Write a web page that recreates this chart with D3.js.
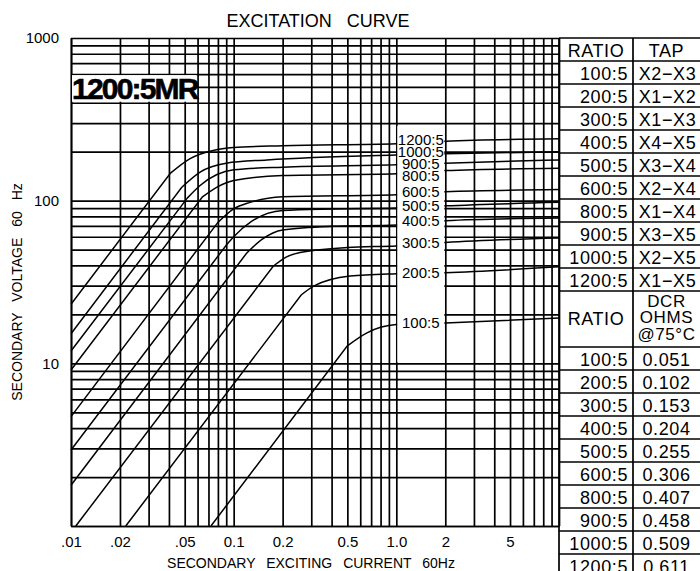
<!DOCTYPE html>
<html>
<head>
<meta charset="utf-8">
<script src="https://cdn.jsdelivr.net/npm/d3@7"></script>
<style>
  body { margin: 0; background: #fff; }
  svg { display: block; font-family: "Liberation Sans", Arial, sans-serif; }
</style>
</head>
<body>
<svg></svg>
<script>
var width = 700;
var height = 571;

// excitation curves: [secondary exciting current (A), secondary volts]
var curve100 = [[0.0725, 1], [0.5, 12.8], [0.66, 15.4], [1, 17.3], [2, 17.7], [10, 19]];
var curve200 = [[0.0217, 1], [0.26, 26.3], [0.31, 29.8], [0.52, 34.4], [1, 35.6], [2, 36.1], [10, 39.2]];
var curve300 = [[0.0107, 1], [0.175, 39.5], [0.21, 45], [0.256, 48], [0.5, 51.5], [1, 52.7], [2, 55.4], [10, 58.9]];
var curve400 = [[0.01, 1.78], [0.12, 47.5], [0.15, 58], [0.2, 66], [0.4, 69.5], [1, 70.8], [2, 75.3], [10, 78.2]];
var curve500 = [[0.01, 2.93], [0.09, 53.2], [0.1, 60], [0.13, 75], [0.2, 87], [0.4, 89], [1, 90.1], [2, 93], [10, 97.7]];
var curve600 = [[0.01, 4.7], [0.08, 73.5], [0.1, 89], [0.126, 97.6], [0.2, 105.8], [1, 108.9], [2, 113.6], [10, 117]];
var curve800 = [[0.01, 9.1], [0.064, 105], [0.08, 122], [0.1, 133], [0.2, 142.6], [1, 146.2], [2, 153], [10, 158]];
var curve900 = [[0.01, 11.9], [0.052, 104], [0.0622, 124], [0.1, 154.7], [0.2, 160.7], [1, 166], [2, 170], [10, 178]];
var curve1000 = [[0.01, 15.2], [0.048, 121], [0.0622, 150], [0.09, 170], [0.16, 178], [1, 191], [2, 194], [10, 200]];
var curve1200 = [[0.01, 23.1], [0.0407, 147], [0.054, 181.5], [0.0748, 203.6], [0.0995, 212], [0.2, 217.6], [1, 223.8], [2, 232], [10, 240]];

var ratios = ["100:5", "200:5", "300:5", "400:5", "500:5", "600:5", "800:5", "900:5", "1000:5", "1200:5"];
var curves = [curve100, curve200, curve300, curve400, curve500, curve600, curve800, curve900, curve1000, curve1200];
var taps = ["X2\u2212X3", "X1\u2212X2", "X1\u2212X3", "X4\u2212X5", "X3\u2212X4", "X2\u2212X4", "X1\u2212X4", "X3\u2212X5", "X2\u2212X5", "X1\u2212X5"];
var dcrOhms = ["0.051", "0.102", "0.153", "0.204", "0.255", "0.306", "0.407", "0.458", "0.509", "0.611"];

var xTicks = [0.01, 0.02, 0.05, 0.1, 0.2, 0.5, 1, 2, 5];
var xTickLabels = [".01", ".02", ".05", "0.1", "0.2", "0.5", "1.0", "2", "5"];
var yTicks = [10, 100, 1000];
var yTickLabels = ["10", "100", "1000"];

const svg = d3.select('svg')
    .attr('width', width)
    .attr('height', height);

svg.append("rect").attr("width", width).attr("height", height).attr("fill", "#fff");

var x = d3.scaleLog().domain([0.01, 10]).range([71, 559]);
var y = d3.scaleLog().domain([1, 1000]).range([526, 38]);
var plotH = y(1) - y(1000);
var plotW = x(10) - x(0.01);

// log grid, drawn with axes
var gx = svg.append("g")
    .attr("transform", `translate(0,${y(1)})`)
    .call(d3.axisBottom(x).tickValues(x.ticks()).tickSize(-plotH).tickSizeOuter(0).tickFormat(""));
var gy = svg.append("g")
    .attr("transform", `translate(${x(0.01)},0)`)
    .call(d3.axisLeft(y).tickValues(y.ticks()).tickSize(-plotW).tickSizeOuter(0).tickFormat(""));
svg.selectAll("g line, g path").attr("stroke", "#000").attr("stroke-width", 1.7);

// curves: straight unsaturated part, then a smooth knee
var straight = d3.line().x(d => x(d[0])).y(d => y(d[1]));
var knee = d3.line().x(d => x(d[0])).y(d => y(d[1])).curve(d3.curveMonotoneX);
function curvePath(pts) {
    return straight(pts.slice(0, 2)) + knee(pts.slice(1)).replace(/^M/, "L");
}
svg.append("g").selectAll("path")
    .data(curves)
    .join("path")
    .attr("d", curvePath)
    .attr("fill", "none")
    .attr("stroke", "#000")
    .attr("stroke-width", 1.5);

// white label strip between 1.0 and 2
svg.append("rect")
    .attr("x", x(1) + 1).attr("width", x(2) - x(1) - 2)
    .attr("y", y(300) + 3).attr("height", y(10) - y(300) - 4)
    .attr("fill", "#fff");

var labelY = curves.map(c => y(c.find(p => p[0] === 2)[1]));
for (var it = 0; it < 60; it++) {
    for (var i = labelY.length - 1; i > 0; i--) {
        var gap = labelY[i - 1] - labelY[i];
        if (gap < 12) {
            var dd = (12 - gap) / 2;
            labelY[i - 1] += dd;
            labelY[i] -= dd;
        }
    }
}
svg.append("g").selectAll("text")
    .data(ratios)
    .join("text")
    .attr("x", x(Math.sqrt(2)))
    .attr("y", (d, i) => labelY[i])
    .attr("dy", "0.36em")
    .attr("text-anchor", "middle")
    .attr("font-size", 15)
    .text(d => d);

// model label
svg.append("rect")
    .attr("x", x(0.01) + 1).attr("width", x(0.06) - x(0.01) - 2)
    .attr("y", y(600) + 1).attr("height", y(400) - y(600) - 2)
    .attr("fill", "#fff");
svg.append("text")
    .attr("x", x(0.01) + 1)
    .attr("y", y(400) - 4)
    .attr("font-size", 30)
    .attr("font-weight", "bold")
    .attr("letter-spacing", -1.8)
    .attr("stroke", "#000")
    .attr("stroke-width", 0.6)
    .text("1200:5MR");

// tick labels
var ax = svg.append("g")
    .attr("transform", `translate(0,${y(1)})`)
    .call(d3.axisBottom(x).tickValues(xTicks).tickFormat((d, i) => xTickLabels[i]).tickSize(0).tickPadding(10));
var ay = svg.append("g")
    .attr("transform", `translate(${x(0.01)},0)`)
    .call(d3.axisLeft(y).tickValues(yTicks).tickFormat((d, i) => yTickLabels[i]).tickSize(0).tickPadding(12));
[ax, ay].forEach(g => {
    g.select(".domain").remove();
    g.selectAll("text").attr("font-size", 15).attr("fill", "#000")
        .attr("font-family", "Liberation Sans, Arial, sans-serif");
});

// titles
svg.append("text")
    .attr("x", 318).attr("y", 27)
    .attr("text-anchor", "middle")
    .attr("font-size", 18)
    .attr("word-spacing", 10)
    .text("EXCITATION CURVE");
svg.append("text")
    .attr("x", 311).attr("y", 568)
    .attr("text-anchor", "middle")
    .attr("font-size", 14)
    .attr("word-spacing", 7)
    .text("SECONDARY EXCITING CURRENT 60Hz");
svg.append("text")
    .attr("transform", "translate(22,292) rotate(-90)")
    .attr("text-anchor", "middle")
    .attr("font-size", 14)
    .attr("word-spacing", 7)
    .text("SECONDARY VOLTAGE 60 Hz");

// table
var colX = [559, 633, 700];
var rowH = 23;
var top1 = 38;
var top2 = top1 + rowH * 11;
var head2 = 56;
var top3 = top2 + head2;
var hLines = d3.range(12).map(k => top1 + k * rowH)
    .concat(d3.range(11).map(k => top3 + k * rowH));
var tbl = svg.append("g");
tbl.selectAll("line.h")
    .data(hLines)
    .join("line")
    .attr("x1", colX[0]).attr("x2", colX[2])
    .attr("y1", d => d).attr("y2", d => d)
    .attr("stroke", "#000").attr("stroke-width", 1.7);
tbl.selectAll("line.v")
    .data(colX.slice(0, 2))
    .join("line")
    .attr("x1", d => d).attr("x2", d => d)
    .attr("y1", top1).attr("y2", height)
    .attr("stroke", "#000").attr("stroke-width", 1.7);

function cell(xp, yp, txt, anchor, size) {
    tbl.append("text")
        .attr("x", xp).attr("y", yp)
        .attr("text-anchor", anchor)
        .attr("font-size", size || 18)
        .attr("letter-spacing", 0.6)
        .text(txt);
}
var c1 = (colX[0] + colX[1]) / 2;
var c2 = (colX[1] + colX[2]) / 2;
cell(c1, top1 + 19, "RATIO", "middle");
cell(c2, top1 + 19, "TAP", "middle");
ratios.forEach((r, i) => {
    cell(colX[1] - 5, top1 + rowH * (i + 1) + 19, r, "end");
    cell(c2 + 1, top1 + rowH * (i + 1) + 19, taps[i], "middle");
    cell(colX[1] - 5, top3 + rowH * i + 19, r, "end");
    cell(c2, top3 + rowH * i + 19, dcrOhms[i], "middle");
});
cell(c1, top2 + 34, "RATIO", "middle");
cell(c2, top2 + 16, "DCR", "middle", 17);
cell(c2, top2 + 32, "OHMS", "middle", 17);
cell(c2, top2 + 49, "@75\u00B0C", "middle", 17);
</script>
</body>
</html>
